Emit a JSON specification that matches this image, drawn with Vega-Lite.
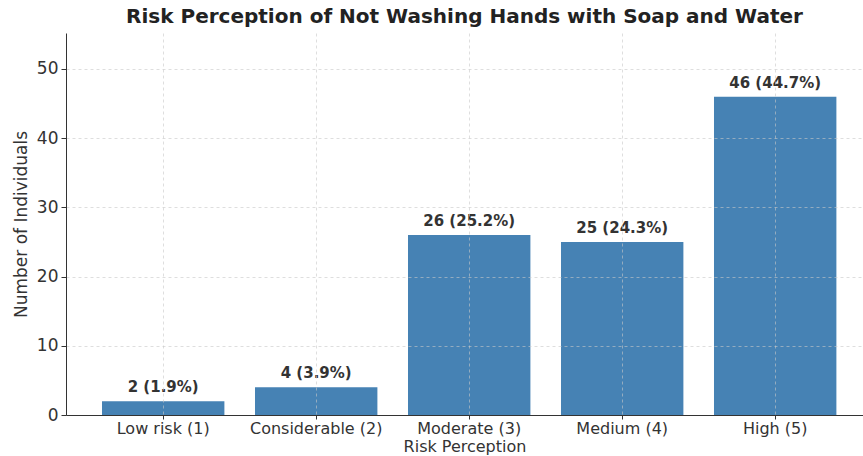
{
  "$schema": "https://vega.github.io/schema/vega-lite/v6.json",
  "autosize": {"type": "none"},
  "width": 797,
  "height": 382,
  "padding": {"left": 66, "top": 33, "right": 0, "bottom": 41},
  "background": "white",
  "config": {
    "view": {"stroke": null},
    "font": "DejaVu Sans"
  },
  "title": {
    "text": "Risk Perception of Not Washing Hands with Soap and Water",
    "font": "DejaVu Sans",
    "fontSize": 20,
    "fontWeight": "bold",
    "color": "#222222",
    "anchor": "middle",
    "offset": 6
  },
  "data": {
    "values": [
      {"category": "Low risk (1)", "count": 2, "label": "2 (1.9%)"},
      {"category": "Considerable (2)", "count": 4, "label": "4 (3.9%)"},
      {"category": "Moderate (3)", "count": 26, "label": "26 (25.2%)"},
      {"category": "Medium (4)", "count": 25, "label": "25 (24.3%)"},
      {"category": "High (5)", "count": 46, "label": "46 (44.7%)"}
    ]
  },
  "encoding": {
    "x": {
      "field": "category",
      "type": "nominal",
      "sort": null,
      "scale": {"paddingInner": 0.2, "paddingOuter": 0.2046, "align": 0.575},
      "axis": {
        "title": "Risk Perception",
        "titleFont": "DejaVu Sans",
        "titleFontSize": 16,
        "titleFontWeight": "normal",
        "titleColor": "#333333",
        "titlePadding": 2,
        "labelAngle": 0,
        "labelFontSize": 16,
        "labelColor": "#333333",
        "labelPadding": 1,
        "tickSize": 4,
        "tickColor": "#333333",
        "domainColor": "#333333",
        "grid": true,
        "gridColor": "#c8c8c8",
        "gridDash": [3, 3],
        "gridOpacity": 0.6,
        "zindex": 1
      }
    },
    "y": {
      "field": "count",
      "type": "quantitative",
      "scale": {"domain": [0, 55.2], "nice": false},
      "axis": {
        "title": "Number of Individuals",
        "titleFont": "DejaVu Sans",
        "titleFontSize": 17,
        "titleFontWeight": "normal",
        "titleColor": "#333333",
        "titlePadding": 6,
        "values": [0, 10, 20, 30, 40, 50],
        "labelFontSize": 17,
        "labelColor": "#333333",
        "labelPadding": 3,
        "tickSize": 5,
        "tickColor": "#333333",
        "domainColor": "#333333",
        "grid": true,
        "gridColor": "#c8c8c8",
        "gridDash": [3, 3],
        "gridOpacity": 0.6,
        "zindex": 1
      }
    }
  },
  "layer": [
    {
      "mark": {"type": "bar", "color": "#4682B4"}
    },
    {
      "mark": {
        "type": "text",
        "baseline": "bottom",
        "dy": -6,
        "font": "DejaVu Sans",
        "fontSize": 15,
        "fontWeight": "bold",
        "color": "#333333"
      },
      "encoding": {"text": {"field": "label"}}
    }
  ]
}
